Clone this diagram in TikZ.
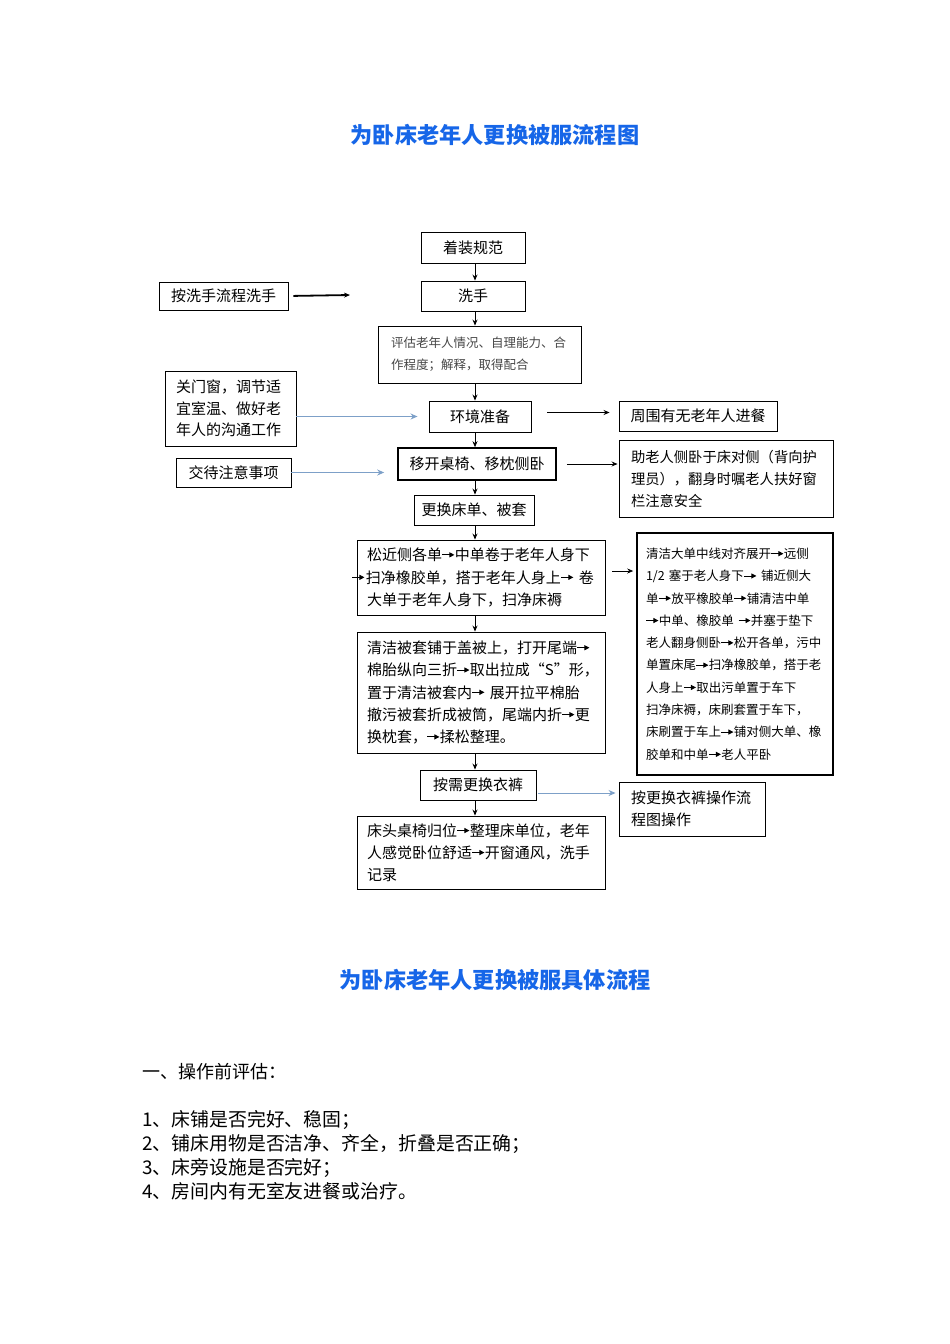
\documentclass[tikz,border=0pt]{standalone}
\usepackage{fontspec}
\setmainfont{Noto Sans CJK SC}
\usepackage{xcolor}
\usetikzlibrary{arrows.meta, positioning}
\definecolor{titleblue}{RGB}{22,102,232}
\definecolor{lineblue}{RGB}{125,160,200}
\definecolor{smalltext}{RGB}{70,70,70}
\newcommand{\sarrow}{\raisebox{\dimexpr0.38em-2.5pt\relax}{\tikz\draw[line width=0.9pt,-{Triangle[length=5pt,width=5pt]}] (0,0) -- (12pt,0);}}

\begin{document}
\begin{tikzpicture}[x=1pt,y=-1pt,>={Stealth[length=6pt,width=5pt]},
        box/.style={draw, line width=0.9pt, inner sep=0pt, align=center, font=\fontsize{15}{22}\selectfont},
        textbox/.style={box, align=left},
        flow/.style={->, line width=0.8pt},
        soft/.style={->, draw=lineblue, line width=1.3pt, >={Stealth[length=7pt,width=6pt]}},
        heading/.style={text=titleblue, font=\fontsize{22.2}{26}\selectfont\bfseries}]
    \useasboundingbox (0,0) rectangle (950,1344);

    \node[heading] (title) at (495,135) {为卧床老年人更换被服流程图};

    % main column
    \node[box, minimum width=104pt, minimum height=31pt] (zhuang) at (473,247.5) {着装规范};
    \node[box, minimum width=104pt, minimum height=30pt] (xishou) at (473,296) {洗手};
    \node[textbox, text=smalltext, font=\fontsize{12.5}{22}\selectfont, inner xsep=13pt,
          text width=177pt, minimum height=57pt] (pinggu) at (479.5,354.5)
          {评估老年人情况、自理能力、合\\作程度；解释，取得配合};
    \node[box, minimum width=102pt, minimum height=31pt] (huanjing) at (480,416.5) {环境准备};
    \node[box, line width=1.6pt, minimum width=158pt, minimum height=32pt] (yikai) at (477,464) {移开桌椅、移枕侧卧};
    \node[box, minimum width=120pt, minimum height=30pt] (genghuan) at (474,510) {更换床单、被套};
    \node[textbox, font=\fontsize{15}{22.5}\selectfont, inner xsep=9pt, text width=230pt,
          minimum height=75pt] (songjin) at (481,577.5)
          {\hspace*{1pt}松近侧各单\sarrow 中单卷于老年人身下\\
           \leavevmode\kern-14pt\sarrow\kern1pt 扫净橡胶单，搭于老年人身上\sarrow~卷\\
           \hspace*{1pt}大单于老年人身下，扫净床褥};
    \node[textbox, font=\fontsize{15}{22.3}\selectfont, inner xsep=10pt, text width=228pt,
          minimum height=121pt] (qingjie) at (481,692.5)
          {清洁被套铺于盖被上，打开尾端\sarrow\\
           棉胎纵向三折\sarrow 取出拉成“S”形，\\
           置于清洁被套内\sarrow{} 展开拉平棉胎\\
           撤污被套折成被筒，尾端内折\sarrow 更\\
           换枕套，\sarrow 揉松整理。};
    \node[box, minimum width=116pt, minimum height=30pt] (anxu) at (478,785) {按需更换衣裤};
    \node[textbox, font=\fontsize{15}{22}\selectfont, inner xsep=10pt, text width=228pt,
          minimum height=73pt] (chuangtou) at (481,852.5)
          {床头桌椅归位\sarrow 整理床单位，老年\\
           人感觉卧位舒适\sarrow 开窗通风，洗手\\
           记录};

    % left side
    \node[box, minimum width=129pt, minimum height=28pt] (anxi) at (223.5,296) {按洗手流程洗手};
    \coordinate (anxiend) at (350,295);
    \node[textbox, font=\fontsize{15}{21.5}\selectfont, inner xsep=11pt, text width=109pt,
          minimum height=75pt] (guanmen) at (230.5,408.5)
          {关门窗，调节适\\宜室温、做好老\\年人的沟通工作};
    \node[box, minimum width=115pt, minimum height=29pt] (jiaodai) at (233.5,472.5) {交待注意事项};

    % right side
    \node[box, minimum width=158pt, minimum height=30pt] (zhouwei) at (698,416) {周围有无老年人进餐};
    \node[textbox, font=\fontsize{14.3}{22}\selectfont, inner xsep=12pt, text width=190pt,
          minimum height=77pt] (zhulao) at (726,478.5)
          {助老人侧卧于床对侧（背向护\\理员），翻身时嘱老人扶好窗\\栏注意安全};
    \node[textbox, line width=1.6pt, font=\fontsize{12.5}{22.3}\selectfont, inner xsep=9pt,
          text width=178pt, minimum height=242pt] (pusheng) at (735,654)
          {清洁大单中线对齐展开\sarrow 远侧\\
           1/2 塞于老人身下\sarrow{} 铺近侧大\\
           单\sarrow 放平橡胶单\sarrow 铺清洁中单\\
           \sarrow 中单、橡胶单 \sarrow 并塞于垫下\\
           老人翻身侧卧\sarrow 松开各单，污中\\
           单置床尾\sarrow 扫净橡胶单，搭于老\\
           人身上\sarrow 取出污单置于车下\\
           扫净床褥，床刷套置于车下，\\
           床刷置于车上\sarrow 铺对侧大单、橡\\
           胶单和中单\sarrow 老人平卧};
    \node[textbox, font=\fontsize{15}{22}\selectfont, inner xsep=12pt, text width=122pt,
          minimum height=54pt] (anyi) at (692,809)
          {按更换衣裤操作流\\程图操作};

    % main flow
    \coordinate (col) at (475,0);
    \foreach \a/\b in {zhuang/xishou, xishou/pinggu, pinggu/huanjing, huanjing/yikai,
                       yikai/genghuan, genghuan/songjin, songjin/qingjie, qingjie/anxu, anxu/chuangtou}
        \draw[flow] (\a.south -| col) -- (\b.north -| col);

    % side arrows
    \draw[flow, line width=1.8pt, shorten <=5pt] (anxi.east) -- (anxiend);
    \draw[soft, shorten >=11pt] (guanmen.east |- huanjing.west) -- (huanjing.west);
    \draw[soft, shorten >=13pt] (jiaodai.east) -- (jiaodai.east -| yikai.west);
    \draw[flow, shorten <=16pt, shorten >=9pt] ([yshift=4pt]huanjing.east) -- ([yshift=4pt]huanjing.east -| zhouwei.west);
    \draw[flow, shorten <=10pt, shorten >=1pt] (yikai.east) -- (yikai.east -| zhulao.west);
    \draw[flow, shorten <=7pt, shorten >=3pt] ([yshift=6.5pt]songjin.east) -- ([yshift=6.5pt]songjin.east -| pusheng.west);
    \draw[soft, line width=1pt, shorten <=2pt, shorten >=3pt] ([yshift=-8pt]anxu.east) -- ([yshift=-8pt]anxu.east -| anyi.west);

    % second part
    \node[heading] (title2) at (495,980) {为卧床老年人更换被服具体流程};
    \node[anchor=west, inner sep=0pt, font=\fontsize{18}{24}\selectfont] (pinggutitle) at (142,1072) {一、操作前评估：};
    \node[anchor=north west, inner sep=0pt, align=left, font=\fontsize{18.9}{24}\selectfont] (pingguitems) at (142,1110)
        {1、床铺是否完好、稳固；\\
         2、铺床用物是否洁净、齐全，折叠是否正确；\\
         3、床旁设施是否完好；\\
         4、房间内有无室友进餐或治疗。};
\end{tikzpicture}
\end{document}
